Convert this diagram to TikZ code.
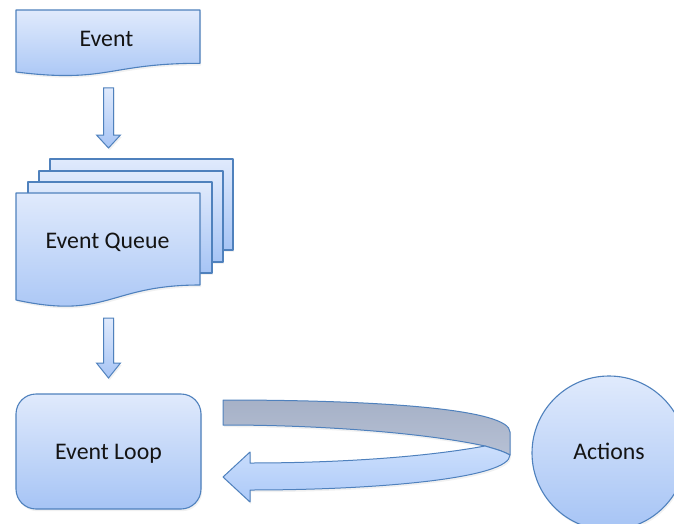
\documentclass[tikz,border=0pt]{standalone}
\usepackage{fontspec}
\setmainfont{Carlito}
\usetikzlibrary{shadows,calc}
\definecolor{edgeblue}{RGB}{79,129,189}
\definecolor{topblue}{RGB}{224,234,252}
\definecolor{botblue}{RGB}{166,196,245}
\definecolor{graytop}{RGB}{166,177,199}
\definecolor{graybot}{RGB}{182,192,212}
\definecolor{bandtop}{RGB}{204,223,252}
\definecolor{bandbot}{RGB}{172,201,248}
\definecolor{ink}{RGB}{20,20,20}
\begin{document}
\begin{tikzpicture}[x=1pt,y=-1pt,
  softshadow/.style={drop shadow={opacity=0.11, shadow xshift=1.2pt, shadow yshift=-2.2pt}},
  flowfill/.style={draw=edgeblue, line width=1.1pt, line join=round,
    top color=topblue, bottom color=botblue, softshadow},
  fatarrow/.style={draw=edgeblue, line width=1pt, line join=miter,
    top color=topblue, bottom color=botblue, softshadow},
  txt/.style={anchor=base, text=ink, inner sep=0pt,
    font=\fontsize{23.8pt}{28pt}\selectfont},
]
\useasboundingbox (0,0) rectangle (674,524);
\clip (0,0) rectangle (674,524);

% anchor points for the block arrows and the loop ribbon
\coordinate (arrowA) at (108.5,88);
\coordinate (arrowB) at (108.5,318);
\coordinate (ribbonL) at (223,400);
\coordinate (ribbonR) at (510,455);
\coordinate (ribbonM) at (485,446);

% single document: Event
\path[flowfill] (16,10) -- (200,10) -- (200,63.3)
  .. controls (108,63.3) and (108,83.5) .. (16,72) -- cycle;
\node[txt] (event) at (106.5,47) {Event};

% arrow Event -> Event Queue
\path[fatarrow] ($(arrowA)+(-5,0)$) -- ++(10,0) -- ++(0,47) -- ++(7,0)
  -- ++(-12,13) -- ++(-12,-13) -- ++(7,0) -- cycle;

% stacked documents: Event Queue
\path[flowfill] (50,159) rectangle (233,250);
\path[flowfill] (39,171) rectangle (223,262);
\path[flowfill] (28,182) rectangle (212,273);
\path[flowfill] (16,193) -- (200,193) -- (200,285)
  .. controls (108,285) and (108,320) .. (16,300) -- cycle;
\node[txt] (queue) at (107.5,248) {Event Queue};

% arrow Event Queue -> Event Loop
\path[fatarrow] ($(arrowB)+(-5,0)$) -- ++(10,0) -- ++(0,45) -- ++(7,0)
  -- ++(-12,15) -- ++(-12,-15) -- ++(7,0) -- cycle;

% Event Loop
\path[flowfill, rounded corners=20pt] (16,394) rectangle (201,509);
\node[txt] (loop) at (108.5,459) {Event Loop};

% Actions
\node[circle, minimum size=154pt, inner sep=0pt, flowfill] (actionsc) at (609,453) {};
\node[txt] (actions) at (609,459) {Actions};

% loop ribbon: back face (grey) and front face with arrow head
\path[draw=edgeblue, line width=1pt, line join=round,
    top color=graytop, bottom color=graybot, softshadow]
  (ribbonL) .. controls (380,400) and (510,409) .. (510,432)
  -- (ribbonR) .. controls (502,451) .. (ribbonM)
  .. controls (430,434) and (330,425) .. (223,425) -- cycle;
\path[draw=edgeblue, line width=1pt, line join=round,
    top color=bandtop, bottom color=bandbot, softshadow]
  (ribbonM) .. controls (420,458) and (330,463) .. (250,463)
  -- (250,452) -- (223,477) -- (250,502) -- (250,490)
  .. controls (380,490) and (510,478) .. (ribbonR)
  .. controls (502,451) .. (ribbonM) -- cycle;
\end{tikzpicture}
\end{document}
